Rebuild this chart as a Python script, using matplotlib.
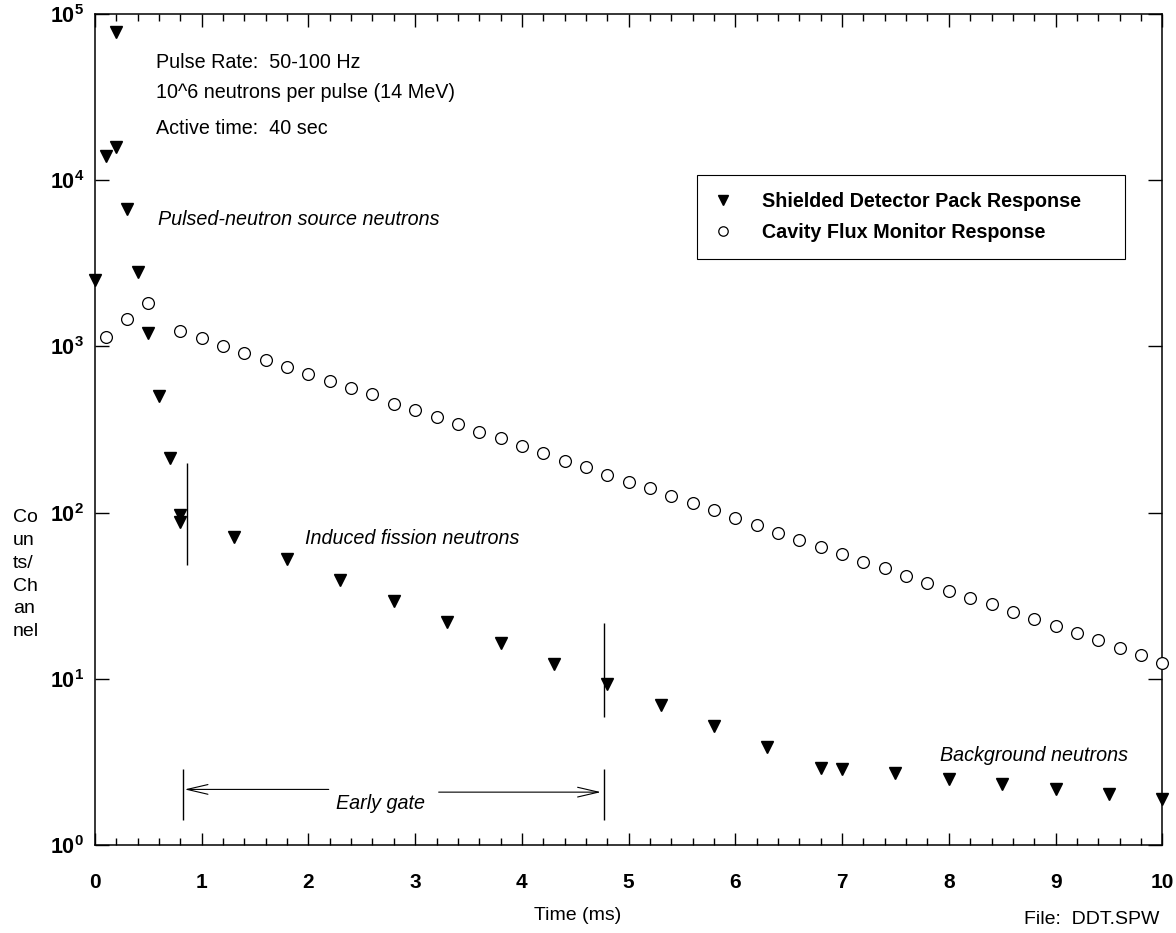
import matplotlib
matplotlib.use('Agg')
import matplotlib.pyplot as plt
from matplotlib.ticker import MultipleLocator, NullLocator

plt.rcParams['font.family'] = ['Liberation Sans', 'DejaVu Sans']
plt.rcParams['mathtext.fontset'] = 'custom'
plt.rcParams['mathtext.rm'] = 'Liberation Sans'
plt.rcParams['mathtext.bf'] = 'Liberation Sans:bold'
plt.rcParams['mathtext.it'] = 'Liberation Sans:italic'

# ---- data ----
det_time = [0.0, 0.1, 0.2, 0.2, 0.3, 0.4, 0.5, 0.6, 0.7, 0.8, 0.8,
            1.3, 1.8, 2.3, 2.8, 3.3, 3.8, 4.3, 4.8, 5.3, 5.8, 6.3, 6.8,
            7.0, 7.5, 8.0, 8.5, 9.0, 9.5, 10.0]
det_counts = [2510, 14000, 15900, 78300, 6680, 2810, 1200, 505, 212, 96.8, 88,
              71.6, 52.4, 39.3, 29.5, 22.1, 16.5, 12.3, 9.27, 6.96, 5.20, 3.90, 2.92,
              2.87, 2.70, 2.49, 2.34, 2.16, 2.02, 1.88]

flux_time = [0.1, 0.3, 0.5,
             0.8, 1.0, 1.2, 1.4, 1.6, 1.8, 2.0, 2.2, 2.4, 2.6, 2.8, 3.0,
             3.2, 3.4, 3.6, 3.8, 4.0, 4.2, 4.4, 4.6, 4.8, 5.0, 5.2, 5.4,
             5.6, 5.8, 6.0, 6.2, 6.4, 6.6, 6.8, 7.0, 7.2, 7.4, 7.6, 7.8,
             8.0, 8.2, 8.4, 8.6, 8.8, 9.0, 9.2, 9.4, 9.6, 9.8, 10.0]
flux_counts = [1143, 1456, 1817,
               1243, 1119, 1006, 917, 828, 749, 678, 622, 560, 515, 450, 414,
               374, 341, 307, 280, 252, 227, 205, 187, 168, 153, 140, 126,
               114, 103, 92.4, 84.2, 75.7, 68.4, 62.4, 56.3, 50.7, 46.2, 41.6, 37.9,
               33.9, 30.8, 28.1, 25.1, 22.9, 20.8, 18.8, 17.0, 15.4, 13.9, 12.5]

x_ticks = [0, 1, 2, 3, 4, 5, 6, 7, 8, 9, 10]
x_tick_labels = ['0', '1', '2', '3', '4', '5', '6', '7', '8', '9', '10']
y_ticks = [1, 10, 100, 1000, 10000, 100000]
y_tick_labels = [r'$\mathbf{10^{0}}$', r'$\mathbf{10^{1}}$', r'$\mathbf{10^{2}}$',
                 r'$\mathbf{10^{3}}$', r'$\mathbf{10^{4}}$', r'$\mathbf{10^{5}}$']

series_labels = ['Shielded Detector Pack Response', 'Cavity Flux Monitor Response']

# gate annotation (ms / counts)
gate_upper_left = (0.86, 48.4, 199)
gate_upper_right = (4.77, 5.87, 21.8)
gate_lower = (0.82, 4.77, 1.41, 2.85)
arrow_left = (2.19, 0.84, 2.16)
arrow_right = (3.22, 4.74, 2.08)

# ---- figure ----
W, H = 1176, 933
fig = plt.figure(figsize=(W / 100, H / 100), dpi=100)
ax = fig.add_axes([95 / W, 1 - 845 / H, (1162.3 - 95) / W, (845 - 14) / H])

ax.plot(det_time, det_counts, linestyle='none', marker='v', markersize=9,
        color='black', clip_on=False, label=series_labels[0], zorder=3)
ax.plot(flux_time, flux_counts, linestyle='none', marker='o', markersize=8.5,
        markerfacecolor='white', markeredgecolor='black', markeredgewidth=0.9,
        clip_on=False, label=series_labels[1], zorder=3)

ax.set_yscale('log')
ax.set_xlim(0, 10)
ax.set_ylim(1, 1e5)
ax.set_xticks(x_ticks, labels=x_tick_labels, fontsize=15, fontweight='bold')
ax.set_yticks(y_ticks, labels=y_tick_labels, fontsize=15.5)
ax.xaxis.set_minor_locator(MultipleLocator(0.2))
ax.yaxis.set_minor_locator(NullLocator())
ax.tick_params(which='both', direction='in', top=True, right=True, width=1.0)
ax.tick_params(axis='x', which='major', length=9, pad=20)
ax.tick_params(axis='x', which='minor', length=5)
ax.tick_params(axis='y', which='major', length=10, pad=8)
for s in ax.spines.values():
    s.set_linewidth(1.1)

# gate lines
ax.vlines(gate_upper_left[0], gate_upper_left[1], gate_upper_left[2], color='black', lw=1.0)
ax.vlines(gate_upper_right[0], gate_upper_right[1], gate_upper_right[2], color='black', lw=1.0)
ax.vlines([gate_lower[0], gate_lower[1]], gate_lower[2], gate_lower[3], color='black', lw=1.0)
arrow_style = dict(arrowstyle='->,head_length=1.5,head_width=0.35', lw=0.8,
                   color='black', shrinkA=0, shrinkB=0, mutation_scale=10)
ax.annotate('', xy=(arrow_left[1], arrow_left[2]), xytext=(arrow_left[0], arrow_left[2]),
            arrowprops=arrow_style)
ax.annotate('', xy=(arrow_right[1], arrow_right[2]), xytext=(arrow_right[0], arrow_right[2]),
            arrowprops=arrow_style)

# annotations
fs = 14.2
ax.text(0.057, 0.942, 'Pulse Rate:  50-100 Hz', transform=ax.transAxes,
        fontsize=fs, va='center', ha='left')
ax.text(0.057, 0.905, '10^6 neutrons per pulse (14 MeV)', transform=ax.transAxes,
        fontsize=fs, va='center', ha='left')
ax.text(0.057, 0.862, 'Active time:  40 sec', transform=ax.transAxes,
        fontsize=fs, va='center', ha='left')
ax.text(0.059, 0.753, 'Pulsed-neutron source neutrons', transform=ax.transAxes,
        fontsize=fs, style='italic', va='center', ha='left')
ax.text(0.197, 0.369, 'Induced fission neutrons', transform=ax.transAxes,
        fontsize=fs, style='italic', va='center', ha='left')
ax.text(0.792, 0.108, 'Background neutrons', transform=ax.transAxes,
        fontsize=fs, style='italic', va='center', ha='left')
ax.text(0.226, 0.050, 'Early gate', transform=ax.transAxes,
        fontsize=fs, style='italic', va='center', ha='left')

leg = ax.legend(loc='upper left', bbox_to_anchor=(0.5638, 0.708, 0.4013, 0.098),
                mode='expand', borderaxespad=0,
                prop={'weight': 'bold', 'size': 14.2},
                fancybox=False, framealpha=1, edgecolor='black',
                borderpad=0.85, handlelength=1.0, handletextpad=1.45,
                labelspacing=0.6, markerscale=0.8)
leg.get_frame().set_linewidth(0.8)

# axis labels as figure text
fig.text(13 / W, 1 - 509 / H, 'Co\nun\nts/\nCh\nan\nnel', fontsize=14,
         ha='left', va='top', linespacing=1.45)
fig.text(578 / W, 1 - 916 / H, 'Time (ms)', fontsize=14, ha='center', va='center')
fig.text(1092 / W, 1 - 920 / H, 'File:  DDT.SPW', fontsize=14, ha='center', va='center')

fig.savefig('out.png', dpi=100)
